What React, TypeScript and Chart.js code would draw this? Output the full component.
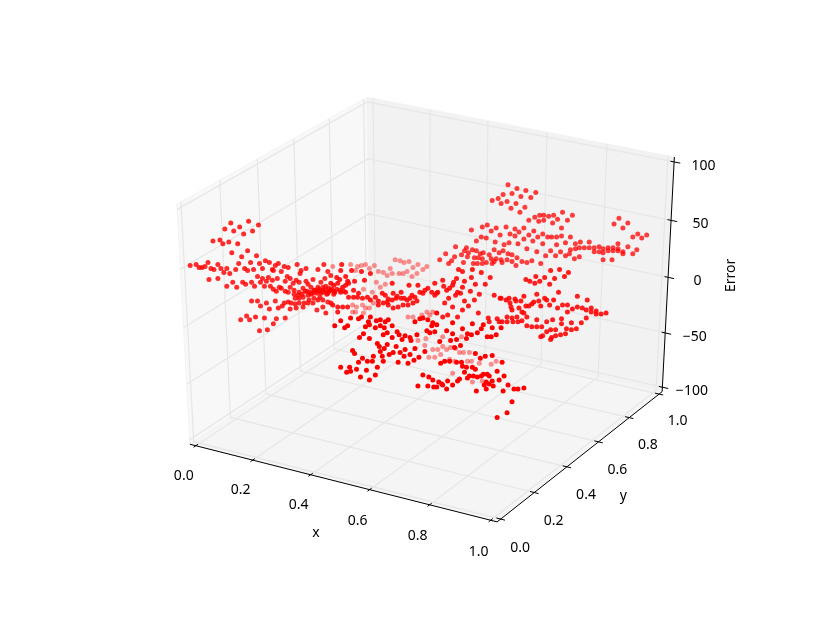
import React, { useEffect, useRef } from "react";
import { Chart, registerables } from "chart.js";

Chart.register(...registerables);

// ---- tick values and titles -------------------------------------------------
const xTicks = [0, 0.2, 0.4, 0.6, 0.8, 1];
const yTicks = [0, 0.2, 0.4, 0.6, 0.8, 1];
const zTicks = [-100, -50, 0, 50, 100];
const xTitle = "x";
const yTitle = "y";
const zTitle = "Error";

// ---- scatter points (projected chart coordinates) --
const upperWingPoints = [
  [509,183],[518,187],[527,189],[537,191],[504,193],[513,192],[522,195],[532,196],[499,197],[493,199],[508,200],[502,202],[517,202],[526,206],[512,207],[521,211],
  [564,211],[574,214],[555,214],[559,218],[569,219],[550,215],[545,214],[541,214],[545,219],[540,220],[536,216],[530,219],[554,222],[563,227],
  [488,224],[483,226],[497,227],[507,226],[492,230],[516,228],[520,231],[525,227],[535,230],[472,229],[511,233],[501,234],[516,235],[530,234],[525,238],[544,233],[539,236],[549,236],[553,236],[558,236],[563,235],[572,236],[482,236],[487,237],[477,240],[505,244],[510,242],[496,241],[519,243],[534,240],[544,243],[558,244],[567,242],[582,241],[577,243],[591,241],
  [572,249],[577,248],[581,247],[586,247],[591,247],[596,247],[601,246],[605,248],[610,247],[615,247],[620,243],[630,246],[620,248],[610,250],[615,250],[620,250],[625,251],[639,249],[635,253],[625,253],[605,252],[601,251],[596,251],[576,258],[581,256],[571,253],[567,255],[562,251],[557,255],[552,250],[547,255],[538,251],[528,248],[605,259],[614,259],
  [621,217],[616,223],[630,222],[625,227],[640,233],[644,237],[635,236],[649,234],
  [456,246],[467,247],[446,253],[504,250],[495,249],[500,252],[509,253],[513,254],[518,257],[523,261],[528,262],[533,260],[542,263],[517,265],[513,261],[508,259],
  [465,250],[462,254],[455,256],[469,252],[473,249],[477,250],[481,253],[484,252],[475,257],[479,257],[483,258],[490,254],[492,258],[495,261],[497,258],[502,259],[503,262],[493,263],[487,262],[483,263],[478,263],[474,263],[468,256],[452,260],[449,263],[440,259],[464,262],
];

const leftWingPoints = [
  [247,220],[229,222],[257,224],[238,226],[223,228],[232,230],[251,230],[242,233],[211,240],[218,239],[221,243],[227,241],[236,243],[230,252],[246,250],[240,256],[255,255],
  [188,265],[194,264],[197,267],[200,267],[203,266],[206,262],[209,268],[212,269],[216,264],[219,268],[222,272],[225,268],[228,273],[234,269],[237,263],[243,268],[246,270],[249,262],[252,269],[258,263],[261,268],[264,260],[268,262],
  [207,279],[216,278],[231,282],[225,286],[235,287],[241,282],[244,284],[250,282],[253,286],[256,276],[261,278],[259,282],[263,286],[267,277],[265,281],[269,286],[272,270],[274,265],[277,263],[271,269],[280,271],[283,266],[287,267],[296,264],[305,268],[300,270],[299,273],[286,276],[289,278],[284,281],[276,278],[271,280],[272,289],[275,291],[280,288],[278,287],[284,291],[287,292],
  [250,301],[256,301],[259,306],[265,303],[268,309],[274,301],[277,308],[281,306],[283,303],[287,302],[289,309],[239,320],[245,316],[248,320],[254,317],[263,318],[275,319],[284,318],[272,324],[258,331],[266,330],
  [295,280],[292,283],[289,287],[293,290],[298,282],[305,281],[307,284],[312,279],[317,269],[323,264],[327,271],[324,278],[320,282],[317,287],[313,290],[310,287],[306,291],[302,288],[297,295],[293,294],[294,298],[298,298],[302,297],[307,295],[312,293],[315,291],[318,289],[322,287],[325,286],[328,288],[320,293],[323,292],[327,293],[307,303],[303,303],[298,303],[294,304],[290,303],[317,300],[322,300],[327,302],[325,313],[316,310],[322,307],[312,303],[313,298],[308,300],[319,297],[295,308],[302,307],[330,275],[330,303],
  [298,292],[301,294],[304,291],[309,292],[314,290],[316,293],[319,291],[322,290],[325,290],[328,291],[331,289],[333,291],[336,289],[339,290],[343,291],[326,294],[333,294],[310,294],
];

const paleCorePoints = [
  [395,259],[400,260],[404,262],[409,261],[413,267],[418,264],[427,266],[423,269],[417,273],[412,276],[407,271],[403,273],[399,273],[390,268],[392,273],[387,275],[383,272],[378,271],[374,265],[369,268],[365,264],[361,265],[357,266],[350,264],[332,266],[355,270],[376,282],[380,287],[385,284],[372,292],[363,289],
  [369,308],[365,308],[362,305],[356,307],[352,305],[373,303],[355,312],[363,313],[352,312],[408,317],[413,317],[427,312],[422,315],[430,315],[433,312],
  [429,358],[435,358],[433,350],[438,350],[441,355],[443,347],[447,350],[451,348],[456,349],[460,353],[464,353],[470,353],[468,362],[472,362],[480,364],[492,365],[497,362],[455,362],[453,374],[450,360],[473,383],[483,382],[418,341],[426,339],[425,346],[443,337],[462,337],
];

const centralBandPoints = [
  [392,283],[341,264],[351,270],[340,270],[336,277],[345,276],[339,279],[347,281],[354,281],[361,271],[364,280],[370,273],[330,283],[333,285],[337,283],[342,287],[345,285],[348,283],[353,290],[358,293],[330,290],[334,292],[340,292],[345,292],
  [348,297],[353,297],[357,297],[362,298],[367,297],[370,300],[375,297],[378,301],[382,293],[385,295],[388,299],[393,293],[396,298],[401,292],[404,298],[407,300],[410,298],[409,285],[412,295],[415,297],[418,285],[420,292],[423,293],[425,290],[428,288],[432,292],[435,295],[438,292],[437,293],[435,283],
  [392,300],[397,296],[401,298],[387,302],
  [417,301],[413,303],[408,305],[403,305],[398,307],[393,308],[388,305],[383,303],[378,305],[347,307],[342,307],[337,307],[332,305],[337,312],
  [459,269],[463,271],[473,269],[482,272],[491,277],[472,277],[465,281],[457,278],[454,282],[453,285],[443,280],[476,284],[486,284],[463,287],[450,288],[447,290],[444,286],[458,292],[471,291],[461,293],[456,295],[480,294],[475,300],[465,301],[469,306],[449,298],[445,303],[453,307],[458,317],[463,310],[448,315],[443,317],[479,313],
  [527,279],[531,281],[536,283],[541,281],[537,276],[546,277],[551,284],[552,270],[556,278],[561,269],[566,276],[570,272],[560,292],
  [495,295],[501,298],[502,298],[507,300],[510,298],[516,299],[511,303],[512,307],[513,310],[517,301],[522,301],[520,308],[523,312],[525,313],[528,317],[525,296],[527,306],[530,306],[533,304],[535,302],[538,294],[540,301],[542,306],[546,298],[548,300],[555,300],[551,305],[559,308],[564,305],[569,305],[569,312],[574,309],[579,296],[589,300],[579,307],[584,308],[588,310],[593,308],[598,311],[603,314],[608,313],[593,312],[598,314],[588,318],[583,323],[573,323],[563,319],[563,324],[554,320],[548,322],[538,320],
  [489,318],[490,322],[498,319],[500,322],[503,322],[508,317],[508,322],[513,318],[514,322],[518,317],[519,322],[523,321],[528,326],[533,327],[538,327],[543,327],[552,330],[557,330],[548,332],[544,336],[542,337],[553,338],[552,340],[557,336],[562,335],[567,334],[568,329],[573,330],[578,329],
];

const frontClusterPoints = [
  [340,321],[334,326],[344,328],[347,326],[350,318],[358,319],[361,317],[368,322],[370,317],[376,321],[380,320],[385,322],[388,320],[369,325],[375,328],[380,326],[384,328],[392,326],[365,327],[363,334],[359,338],[369,339],[383,335],[387,333],[392,338],[397,332],[399,335],[402,340],[405,336],[410,338],[417,335],[415,322],[420,319],[423,318],[428,320],[437,313],[430,333],[435,332],[427,331],[432,326],[433,323],[437,325],
  [473,324],[453,323],[463,329],[453,334],[447,331],[468,334],[472,335],[478,333],[482,329],[484,325],[488,337],[492,337],[493,328],[497,335],[502,328],[451,341],[457,340],[467,339],[461,346],[455,348],[440,342],
  [340,368],[349,368],[346,373],[350,372],[356,370],[360,378],[366,371],[369,381],[375,376],[377,368],[358,363],[362,359],[367,362],[372,362],[373,357],[352,351],[354,354],[380,352],[382,357],[383,362],[389,355],[393,353],[400,353],[404,357],[405,350],[410,355],[415,349],[425,352],[419,358],[414,361],[408,364],[398,363],
  [377,344],[379,347],[387,345],[384,349],[396,347],[411,341],
  [476,354],[481,359],[486,357],[493,356],[503,363],[445,362],[450,362],[441,364],[457,363],[462,363],[463,367],[467,368],[473,368],[476,370],[465,373],[460,380],[458,382],[468,379],[470,377],[474,377],[478,378],[482,377],[484,375],[488,375],[490,377],[498,372],[505,377],[500,381],[493,382],[490,385],[487,383],[485,386],[494,387],[487,390],[477,392],[509,386],[504,392],[515,390],[519,390],[525,389],[513,403],[508,414],[498,419],
  [423,376],[429,378],[433,381],[439,383],[442,385],[448,382],[443,386],[437,388],[434,388],[428,387],[418,387],[453,386],[447,390],
];

// ---- view projection (matplotlib default elev 30, azim -60, distance 10) -----
const M = 1 / 48;
const toPoint = (ux: number, uy: number, uz: number) => {
  const dx = ux - 0.5, dy = uy - 0.5, dz = uz - 0.5;
  const X = 0.8660254 * dx + 0.5 * dy;
  const Y = -0.25 * dx + 0.4330127 * dy + 0.8660254 * dz;
  const Z = 0.4330127 * dx - 0.75 * dy + 0.5 * dz;
  const w = 10 - Z;
  return { x: 430 + 3438 * (X / w), y: 301.9 - 2663 * (Y / w) };
};
const zu = (z: number) => (z + 100) / 200;
type P = { x: number; y: number };
const GAP: P = { x: NaN, y: NaN };

const gridSegs: P[] = [];
xTicks.forEach((t) => gridSegs.push(toPoint(t, -M, -M), toPoint(t, 1 + M, -M), toPoint(t, 1 + M, 1 + M), GAP));
yTicks.forEach((t) => gridSegs.push(toPoint(1 + M, t, -M), toPoint(-M, t, -M), toPoint(-M, t, 1 + M), GAP));
zTicks.forEach((t) => gridSegs.push(toPoint(1 + M, 1 + M, zu(t)), toPoint(-M, 1 + M, zu(t)), toPoint(-M, -M, zu(t)), GAP));

const axisSegs: P[] = [
  toPoint(-M, -M, -M), toPoint(1 + M, -M, -M), GAP,
  toPoint(1 + M, -M, -M), toPoint(1 + M, 1 + M, -M), GAP,
  toPoint(1 + M, 1 + M, -M), toPoint(1 + M, 1 + M, 1 + M), GAP,
];
xTicks.forEach((t) => axisSegs.push(toPoint(t, -M - 0.012, -M), toPoint(t, -M + 0.012, -M), GAP));
yTicks.forEach((t) => axisSegs.push(toPoint(1 + M - 0.014, t, -M), toPoint(1 + M + 0.014, t, -M), GAP));
zTicks.forEach((t) => axisSegs.push(toPoint(1 + M - 0.012, 1 + M, zu(t)), toPoint(1 + M + 0.02, 1 + M, zu(t)), GAP));

const panes = [
  { fill: "#f8f8f8", c: [[-M, -M, -M], [-M, 1 + M, -M], [-M, 1 + M, 1 + M], [-M, -M, 1 + M]] },
  { fill: "#f2f2f2", c: [[-M, 1 + M, -M], [1 + M, 1 + M, -M], [1 + M, 1 + M, 1 + M], [-M, 1 + M, 1 + M]] },
  { fill: "#f5f5f5", c: [[-M, -M, -M], [1 + M, -M, -M], [1 + M, 1 + M, -M], [-M, 1 + M, -M]] },
];

const FONT = '14px "Noto Sans"';

const scenePlugin = {
  id: "scene",
  beforeDatasetsDraw(chart: any) {
    const { ctx, scales } = chart;
    ctx.save();
    panes.forEach((p) => {
      ctx.beginPath();
      p.c.forEach((c: number[], i: number) => {
        const q = toPoint(c[0], c[1], c[2]);
        const px = scales.x.getPixelForValue(q.x), py = scales.y.getPixelForValue(q.y);
        if (i === 0) ctx.moveTo(px, py); else ctx.lineTo(px, py);
      });
      ctx.closePath();
      ctx.fillStyle = p.fill;
      ctx.fill();
      ctx.strokeStyle = "#f3f3f3";
      ctx.lineWidth = 1;
      ctx.stroke();
    });
    ctx.restore();
  },
  afterDatasetsDraw(chart: any) {
    const { ctx, scales } = chart;
    const put = (text: string, q: { x: number; y: number }, dx: number, dy: number, rot = 0) => {
      ctx.save();
      ctx.translate(scales.x.getPixelForValue(q.x) + dx, scales.y.getPixelForValue(q.y) + dy);
      if (rot) ctx.rotate(rot);
      ctx.fillText(text, 0, 0);
      ctx.restore();
    };
    ctx.save();
    ctx.font = FONT;
    ctx.fillStyle = "#000";
    ctx.textAlign = "center";
    ctx.textBaseline = "middle";
    xTicks.forEach((t) => put(t.toFixed(1), toPoint(t, -M, -M), -12, 30 + 1.5 * t));
    yTicks.forEach((t) => put(t.toFixed(1), toPoint(1 + M, t, -M), 19.5 - t, 29 - 2 * t));
    zTicks.forEach((t) => put(String(t).replace("-", "\u2212"), toPoint(1 + M, 1 + M, zu(t)), 29.5, 4));
    put(xTitle, toPoint(0.5, -M, -M), -24, 50.6);
    put(yTitle, toPoint(1 + M, 0.5, -M), 40.5, 42);
    put(zTitle, toPoint(1 + M, 1 + M, 0.5), 63, -2, -Math.PI / 2);
    ctx.restore();
  },
};

const asData = (list: number[][]) => list.map(([x, y]) => ({ x, y }));
const red = (a: number) => `rgba(255,0,0,${a})`;
const scatter = (data: number[][], a: number) => ({
  data: asData(data),
  showLine: false,
  pointRadius: 2.5,
  pointBorderWidth: 0,
  pointBackgroundColor: red(a),
});

export default function App() {
  const ref = useRef<HTMLCanvasElement>(null);
  useEffect(() => {
    const chart = new Chart(ref.current!, {
      type: "scatter",
      plugins: [scenePlugin],
      data: {
        datasets: [
          { data: gridSegs as any, showLine: true, spanGaps: false, borderColor: "#e6e6e6", borderWidth: 1.2, pointRadius: 0, order: 10 },
          { data: axisSegs as any, showLine: true, spanGaps: false, borderColor: "#000", borderWidth: 1, pointRadius: 0, order: 9 },
          { ...scatter(paleCorePoints, 0.42), order: 8 },
          { ...scatter(upperWingPoints, 0.75), order: 7 },
          { ...scatter(leftWingPoints, 0.82), order: 6 },
          { ...scatter(centralBandPoints, 0.88), order: 5 },
          { ...scatter(frontClusterPoints, 1), order: 4 },
        ] as any,
      },
      options: {
        animation: false,
        responsive: false,
        layout: { padding: 0 },
        plugins: { legend: { display: false }, tooltip: { enabled: false }, title: { display: false } },
        scales: {
          x: { type: "linear", display: false, min: 0, max: 822 },
          y: { type: "linear", display: false, min: 0, max: 617, reverse: true },
        },
      },
    });
    return () => chart.destroy();
  }, []);
  return (
    <canvas
      ref={ref}
      width={822}
      height={617}
      style={{ position: "absolute", left: 0, top: 0, display: "block" }}
    />
  );
}
